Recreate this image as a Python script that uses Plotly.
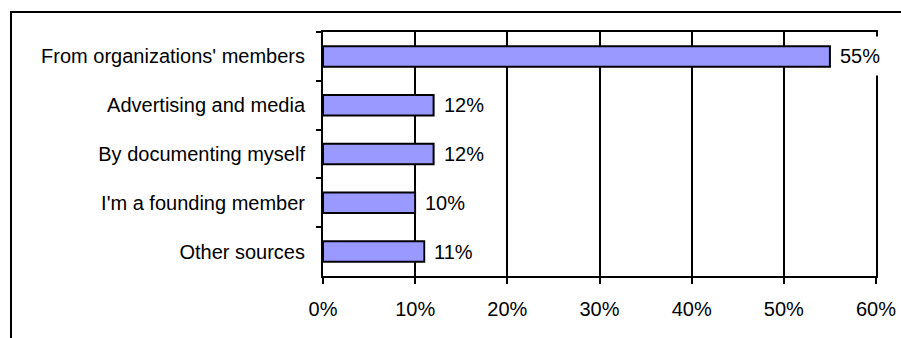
import plotly.graph_objects as go

# Survey answers: how respondents heard about the organization
categories = [
    "From organizations' members",
    "Advertising and media",
    "By documenting myself",
    "I'm a founding member",
    "Other sources",
]
values = [55, 12, 12, 10, 11]
x_ticks = [0, 10, 20, 30, 40, 50, 60]

FONT = "Liberation Sans, Arial, sans-serif"
W, H = 901, 338
ML, MR, MT, MB = 323, 25, 32, 62
PW, PH = W - ML - MR, H - MT - MB


def px_to_paper_x(px):
    return (px - ML) / PW


def px_to_paper_y(py):
    return (H - MB - py) / PH


fig = go.Figure(
    go.Bar(
        x=values,
        y=categories,
        orientation="h",
        width=0.42,
        marker=dict(color="#9999FF", line=dict(color="black", width=2)),
        hoverinfo="skip",
    )
)

# value labels with a white box, so they sit over the grid lines
for cat, val in zip(categories, values):
    fig.add_annotation(
        x=val,
        y=cat,
        xref="x",
        yref="y",
        text=f"{val}%",
        showarrow=False,
        xanchor="left",
        yanchor="middle",
        xshift=1,
        bgcolor="white",
        borderpad=8,
        font=dict(family=FONT, size=20, color="black"),
    )

# outer chart frame (runs off the right and bottom edges)
fig.add_shape(
    type="rect",
    xref="paper",
    yref="paper",
    x0=px_to_paper_x(11),
    x1=px_to_paper_x(920),
    y0=px_to_paper_y(360),
    y1=px_to_paper_y(12),
    line=dict(color="black", width=2),
    fillcolor="rgba(0,0,0,0)",
    layer="above",
)

fig.update_layout(
    width=W,
    height=H,
    margin=dict(l=ML, r=MR, t=MT, b=MB, pad=0, autoexpand=False),
    paper_bgcolor="white",
    plot_bgcolor="white",
    showlegend=False,
    font=dict(family=FONT, size=20, color="black"),
    xaxis=dict(
        range=[0, 60],
        tickvals=x_ticks,
        ticktext=[f"{t}%" for t in x_ticks],
        showgrid=True,
        gridcolor="black",
        gridwidth=2,
        zeroline=False,
        showline=True,
        linecolor="black",
        linewidth=2,
        mirror=True,
        ticks="outside",
        ticklen=6,
        tickwidth=2,
        tickcolor="black",
        ticklabelstandoff=8,
        automargin=False,
        fixedrange=True,
    ),
    yaxis=dict(
        type="category",
        categoryorder="array",
        categoryarray=categories,
        range=[4.5, -0.5],
        tickson="boundaries",
        ticks="outside",
        ticklen=5,
        tickwidth=2,
        tickcolor="black",
        showgrid=False,
        zeroline=False,
        showline=True,
        linecolor="black",
        linewidth=2,
        mirror=True,
        ticklabelstandoff=12,
        automargin=False,
        fixedrange=True,
    ),
)

fig.write_html("out.html", config={"displayModeBar": False})
